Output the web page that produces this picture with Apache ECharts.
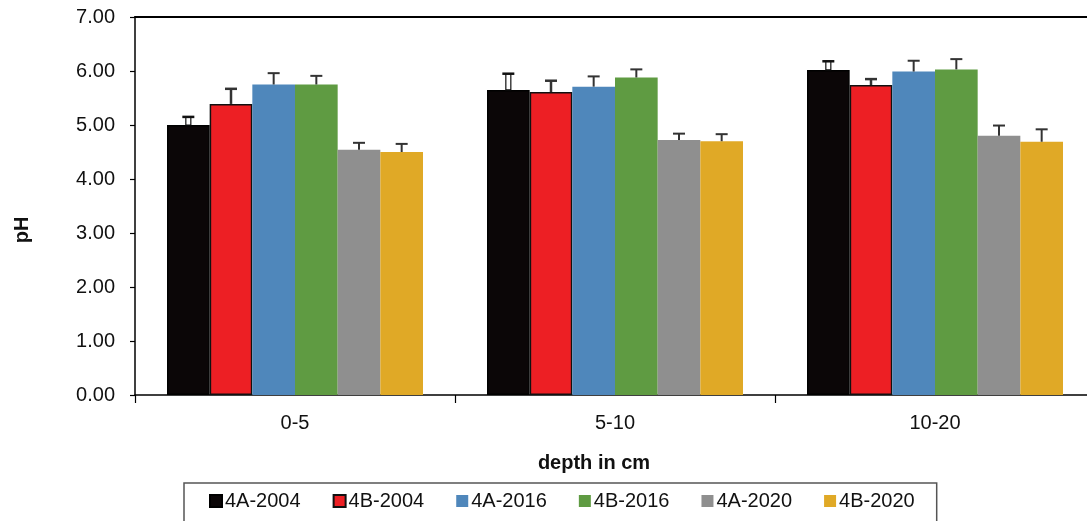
<!DOCTYPE html>
<html>
<head>
<meta charset="utf-8">
<script src="https://cdn.jsdelivr.net/npm/echarts@6/dist/echarts.min.js"></script>
<style>html,body{margin:0;padding:0;background:#fff;overflow:hidden;}#c{width:1095px;height:521px;}</style>
</head>
<body>
<div id="c"></div>
<script>
var categories = ['0-5', '5-10', '10-20'];
var seriesNames = ['4A-2004', '4B-2004', '4A-2016', '4B-2016', '4A-2020', '4B-2020'];
var v4A2004 = [5.00, 5.65, 6.02];
var v4B2004 = [5.39, 5.61, 5.74];
var v4A2016 = [5.75, 5.71, 5.99];
var v4B2016 = [5.75, 5.88, 6.03];
var v4A2020 = [4.54, 4.72, 4.80];
var v4B2020 = [4.50, 4.70, 4.69];
var e4A2004 = [0.15, 0.30, 0.16];
var e4B2004 = [0.28, 0.21, 0.11];
var e4A2016 = [0.21, 0.19, 0.20];
var e4B2016 = [0.16, 0.15, 0.19];
var e4A2020 = [0.13, 0.12, 0.19];
var e4B2020 = [0.15, 0.13, 0.23];
var yTicks = [0, 1, 2, 3, 4, 5, 6, 7];

var values = [v4A2004, v4B2004, v4A2016, v4B2016, v4A2020, v4B2020];
var errors = [e4A2004, e4B2004, e4A2016, e4B2016, e4A2020, e4B2020];
var colors = ['#0b0607', '#ed1f24', '#4f87bb', '#5f9b42', '#8f8f8f', '#e0a926'];
var borders = ['#000', '#111', null, null, null, null];
var FONT = '"Liberation Sans", Arial, sans-serif';
var gapRatio = 0.2;

var chart = echarts.init(document.getElementById('c'), null, {renderer: 'canvas'});
var series = [];
values.forEach(function (vals, i) {
  series.push({
    name: seriesNames[i],
    type: 'bar',
    data: vals,
    barGap: '0%',
    barCategoryGap: '20%',
    itemStyle: borders[i] ? {color: colors[i], borderColor: borders[i], borderWidth: 1.5} : {color: colors[i]},
    emphasis: {disabled: true},
    z: 2
  });
});
values.forEach(function (vals, i) {
  series.push({
    type: 'custom',
    name: 'err' + i,
    data: vals.map(function (v, k) { return [k, v, errors[i][k]]; }),
    z: 5,
    silent: true,
    renderItem: function (params, api) {
      var k = api.value(0), v = api.value(1), e = api.value(2);
      var band = api.size([1, 0])[0];
      var total = band * (1 - gapRatio);
      var bw = total / 6;
      var base = api.coord([k, v]);
      var top = api.coord([k, v + e]);
      var x = base[0] - total / 2 + bw * (i + 0.5);
      var cap = 6;
      var children = [];
      if (i === 0) {
        children.push({type: 'rect', shape: {x: x - 2.5, y: top[1], width: 5, height: base[1] - top[1]},
          style: {fill: '#fff', stroke: '#111', lineWidth: 1.2}});
        children.push({type: 'line', shape: {x1: x - cap, y1: top[1], x2: x + cap, y2: top[1]},
          style: {stroke: '#111', lineWidth: 2.5}});
      } else {
        children.push({type: 'line', shape: {x1: x, y1: top[1], x2: x, y2: base[1]},
          style: {stroke: '#333', lineWidth: i === 1 ? 2.5 : 2}});
        children.push({type: 'line', shape: {x1: x - cap, y1: top[1], x2: x + cap, y2: top[1]},
          style: {stroke: '#333', lineWidth: i === 1 ? 2.5 : 2}});
      }
      return {type: 'group', children: children};
    }
  });
});

chart.setOption({
  animation: false,
  backgroundColor: '#fff',
  textStyle: {fontFamily: FONT},
  grid: {left: 135, top: 17, width: 960, height: 378},
  legend: {
    data: seriesNames,
    left: 184,
    top: 483,
    padding: [8, 22, 30, 25],
    itemWidth: 12,
    itemHeight: 12,
    itemGap: 32,
    icon: 'rect',
    borderColor: '#555',
    borderWidth: 1.5,
    textStyle: {fontSize: 20, color: '#111', fontFamily: FONT, padding: [0, 0, 0, -2]}
  },
  xAxis: [{
    type: 'category',
    data: categories,
    axisLine: {lineStyle: {color: '#000', width: 1.5}},
    axisTick: {show: true, length: 8, lineStyle: {color: '#000', width: 1.2}},
    axisLabel: {fontSize: 20, color: '#111', margin: 18, fontFamily: FONT}
  }, {
    type: 'category',
    data: categories,
    position: 'top',
    axisLine: {lineStyle: {color: '#000', width: 2}},
    axisTick: {show: false},
    axisLabel: {show: false}
  }],
  yAxis: {
    type: 'value',
    min: yTicks[0],
    max: yTicks[yTicks.length - 1],
    interval: 1,
    axisLine: {show: true, lineStyle: {color: '#000', width: 1.5}},
    axisTick: {show: true, length: 5, lineStyle: {color: '#000', width: 1.2}},
    splitLine: {show: false},
    axisLabel: {fontSize: 20, color: '#111', margin: 20, fontFamily: FONT,
      formatter: function (v) { return v.toFixed(2); }}
  },
  graphic: [{
    type: 'text',
    x: 22, y: 230,
    rotation: Math.PI / 2,
    style: {text: 'pH', font: 'bold 20px ' + FONT, fill: '#111', align: 'center', verticalAlign: 'middle'}
  }, {
    type: 'text',
    x: 594, y: 463,
    style: {text: 'depth in cm', font: 'bold 20px ' + FONT, fill: '#111', align: 'center', verticalAlign: 'middle'}
  }],
  series: series
});
</script>
</body>
</html>
